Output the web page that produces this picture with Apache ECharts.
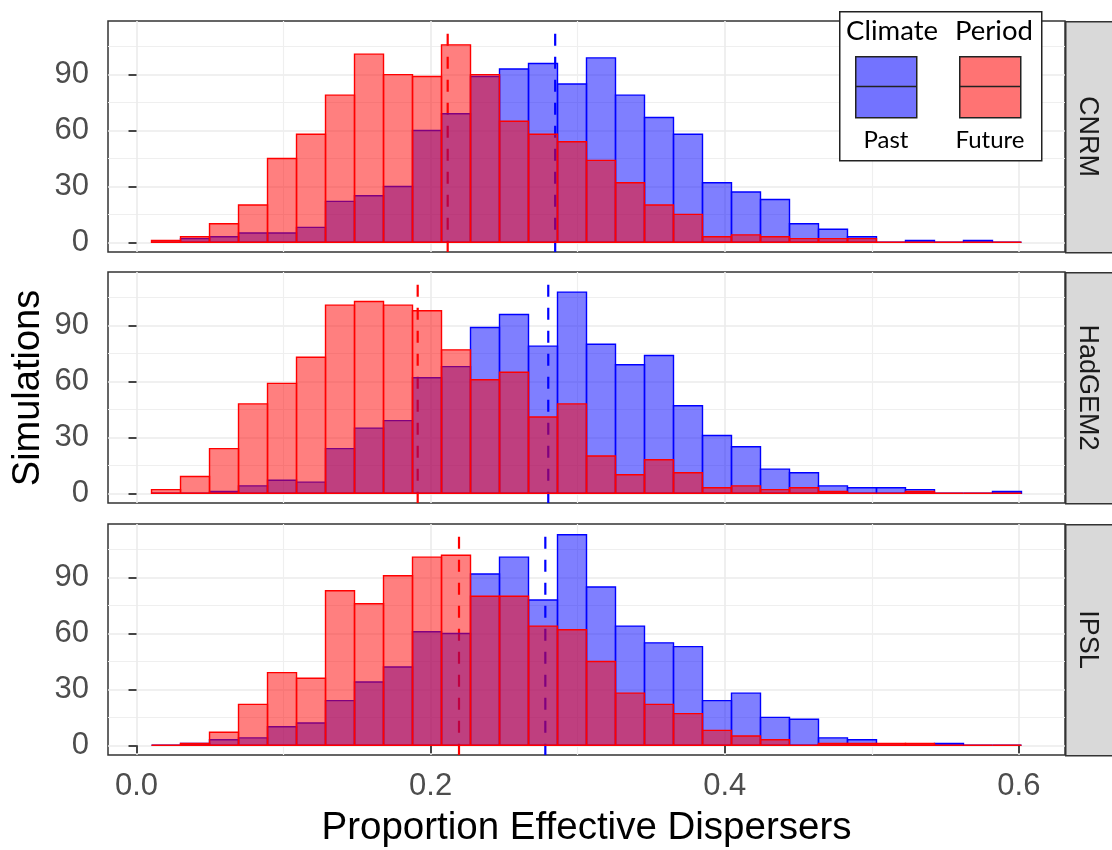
<!DOCTYPE html>
<html>
<head>
<meta charset="utf-8">
<script src="https://cdn.jsdelivr.net/npm/echarts@6/dist/echarts.min.js"></script>
<style>html,body{margin:0;padding:0;background:#fff}#c{width:1112px;height:850px}</style>
</head>
<body>
<div id="c"></div>
<script>
// ---- data ----
const panels = ['CNRM', 'HadGEM2', 'IPSL'];
const binStart = 0.0102;
const binWidth = 0.01972;
const cnrmPast    = [0,2,3,5,5,8,22,25,30,60,69,89,93,96,85,99,79,67,58,32,27,23,10,7,3,0,1,0,1,0];
const cnrmFuture  = [1,3,10,20,45,58,79,101,90,89,106,90,65,58,54,44,32,20,15,3,4,3,2,2,2,0,0,0,0,0];
const hadPast     = [0,0,1,4,7,6,24,35,39,62,68,89,96,79,108,80,69,74,47,31,25,13,11,4,3,3,2,0,0,1];
const hadFuture   = [2,9,24,48,59,73,101,103,101,98,77,61,65,41,48,20,10,18,11,3,4,2,3,1,0,0,1,0,0,0];
const ipslPast    = [0,1,3,4,10,12,24,34,42,61,60,92,101,78,113,85,64,55,53,24,28,15,14,4,3,0,0,1,0,0];
const ipslFuture  = [0,1,7,22,39,36,83,76,91,101,102,80,80,64,62,45,28,22,17,8,5,3,0,1,1,1,1,0,0,0];
const meanPast    = [0.2847, 0.2800, 0.2780];
const meanFuture  = [0.2116, 0.1912, 0.2193];
const meanLineTop = 112;
const yTicks = [0, 30, 60, 90];
const yMinor = [15, 45, 75, 105];
const xTicks = [0, 0.2, 0.4, 0.6];
const xMinor = [0.1, 0.3, 0.5];
const legendLabels = ['Past', 'Future'];
const legendTitle = ['Climate', 'Period'];

const pastData = [cnrmPast, hadPast, ipslPast];
const futureData = [cnrmFuture, hadFuture, ipslFuture];

// ---- layout ----
const panelLeft = 108, panelWidth = 957, panelH = 231;
const panelTops = [21, 272, 524];
const xMin = -0.0194, xMax = 0.6314, yMin = -5.2, yMax = 118.8;
const BLUE = '#0000FF', RED = '#FF0000';
const tickFont = 'Liberation Sans, Arial, sans-serif';

const chart = echarts.init(document.getElementById('c'), null, {renderer: 'canvas'});

const grids = [], xAxes = [], yAxes = [], series = [], graphics = [];

function histRender(stroke, fill) {
  return function (params, api) {
    const x0 = api.value(0), x1 = api.value(1), c = api.value(2);
    const p0 = api.coord([x0, c]);
    const p1 = api.coord([x1, 0]);
    return {
      type: 'rect',
      shape: {x: p0[0], y: p0[1], width: p1[0] - p0[0], height: p1[1] - p0[1]},
      style: {fill: fill, stroke: stroke, lineWidth: 1.4}
    };
  };
}
function vlineRender(color) {
  return function (params, api) {
    const p = api.coord([api.value(0), api.value(1)]);
    const yb = params.coordSys.y + params.coordSys.height;
    return {
      type: 'line',
      shape: {x1: p[0], y1: p[1], x2: p[0], y2: yb},
      style: {stroke: color, lineWidth: 2.2, lineDash: [12, 11]}
    };
  };
}
function toBins(arr) {
  return arr.map((v, i) => [binStart + i * binWidth, binStart + (i + 1) * binWidth, v]);
}

panels.forEach((name, k) => {
  const isBottom = k === panels.length - 1;
  grids.push({left: panelLeft, top: panelTops[k], width: panelWidth, height: panelH,
    show: true, borderColor: '#333333', borderWidth: 1.5, backgroundColor: '#fff', containLabel: false});
  // major x axis
  xAxes.push({type: 'value', gridIndex: k, min: xMin, max: xMax,
    axisLine: {show: false},
    axisTick: {show: isBottom, customValues: xTicks, length: 8, lineStyle: {color: '#333', width: 1.8}},
    axisLabel: {show: isBottom, customValues: xTicks, fontSize: 31, color: '#4D4D4D', margin: 16,
      fontFamily: tickFont, formatter: v => v.toFixed(1)},
    splitLine: {show: true, lineStyle: {color: '#EBEBEB', width: 1.6}}
  });
  // minor x axis
  xAxes.push({type: 'value', gridIndex: k, min: xMin, max: xMax, position: 'top',
    axisLine: {show: false},
    axisTick: {show: false, customValues: xMinor},
    axisLabel: {show: false, customValues: xMinor},
    splitLine: {show: true, lineStyle: {color: '#EFEFEF', width: 1.2}}
  });
  yAxes.push({type: 'value', gridIndex: k, min: yMin, max: yMax,
    axisLine: {show: false},
    axisTick: {show: true, customValues: yTicks, length: 8, lineStyle: {color: '#333', width: 1.8}},
    axisLabel: {show: true, customValues: yTicks, fontSize: 31, color: '#4D4D4D', margin: 19, fontFamily: tickFont},
    splitLine: {show: true, lineStyle: {color: '#EBEBEB', width: 1.6}}
  });
  yAxes.push({type: 'value', gridIndex: k, min: yMin, max: yMax, position: 'right',
    axisLine: {show: false},
    axisTick: {show: false, customValues: yMinor},
    axisLabel: {show: false, customValues: yMinor},
    splitLine: {show: true, lineStyle: {color: '#EFEFEF', width: 1.2}}
  });
  const xi = 2 * k, yi = 2 * k;
  series.push({type: 'custom', name: 'Future mean', xAxisIndex: xi, yAxisIndex: yi, z: 1, clip: true,
    renderItem: vlineRender(RED), data: [[meanFuture[k], meanLineTop]], silent: true});
  series.push({type: 'custom', name: 'Past mean', xAxisIndex: xi, yAxisIndex: yi, z: 1, clip: true,
    renderItem: vlineRender(BLUE), data: [[meanPast[k], meanLineTop]], silent: true});
  series.push({type: 'custom', name: 'Past', xAxisIndex: xi, yAxisIndex: yi, z: 2, clip: true,
    encode: {x: [0, 1], y: 2},
    renderItem: histRender(BLUE, 'rgba(0,0,255,0.5)'), data: toBins(pastData[k]), silent: true});
  series.push({type: 'custom', name: 'Future', xAxisIndex: xi, yAxisIndex: yi, z: 3, clip: true,
    encode: {x: [0, 1], y: 2},
    renderItem: histRender(RED, 'rgba(255,0,0,0.5)'), data: toBins(futureData[k]), silent: true});

  // facet strip
  graphics.push({type: 'rect', left: panelLeft + panelWidth, top: panelTops[k], z: 10,
    shape: {width: 60, height: panelH},
    style: {fill: '#D9D9D9', stroke: '#333333', lineWidth: 1.5}});
  graphics.push({type: 'text', x: panelLeft + panelWidth + 22, y: panelTops[k] + panelH / 2, rotation: -Math.PI / 2, z: 11,
    style: {text: name, fontSize: 27, fontFamily: tickFont, fill: '#1A1A1A', align: 'center', verticalAlign: 'middle'}});
});

// axis titles
graphics.push({type: 'text', x: panelLeft + panelWidth / 2, y: 828, z: 11,
  style: {text: 'Proportion Effective Dispersers', fontSize: 38.5, fontFamily: tickFont, fill: '#000',
    align: 'center', verticalAlign: 'middle'}});
graphics.push({type: 'text', x: 29, y: (panelTops[0] + panelTops[2] + panelH) / 2, rotation: Math.PI / 2, z: 11,
  style: {text: 'Simulations', fontSize: 38, fontFamily: tickFont, fill: '#000',
    align: 'center', verticalAlign: 'middle'}});

// legend
const legFont = 'Lato, Open Sans, sans-serif';
graphics.push({type: 'rect', left: 839, top: 11, z: 20, shape: {width: 202, height: 149},
  style: {fill: '#fff', stroke: '#222', lineWidth: 1.5}});
const keyX = [855, 959], keyFill = ['rgba(0,0,255,0.55)', 'rgba(255,0,0,0.55)'];
keyX.forEach((kx, j) => {
  graphics.push({type: 'rect', left: kx, top: 56, z: 21, shape: {width: 61, height: 61},
    style: {fill: keyFill[j], stroke: '#222', lineWidth: 1.5}});
  graphics.push({type: 'line', z: 22, shape: {x1: kx, y1: 86.5, x2: kx + 61, y2: 86.5},
    style: {stroke: '#222', lineWidth: 1.5}});
  graphics.push({type: 'text', x: kx + 31, y: 140, z: 22,
    style: {text: legendLabels[j], fontSize: 24, fontFamily: legFont, fill: '#000', align: 'center', verticalAlign: 'middle'}});
});
graphics.push({type: 'text', x: 892, y: 31, z: 22,
  style: {text: legendTitle[0], fontSize: 27.5, fontFamily: legFont, fill: '#000', align: 'center', verticalAlign: 'middle'}});
graphics.push({type: 'text', x: 994, y: 31, z: 22,
  style: {text: legendTitle[1], fontSize: 27.5, fontFamily: legFont, fill: '#000', align: 'center', verticalAlign: 'middle'}});

chart.setOption({
  animation: false,
  backgroundColor: '#fff',
  grid: grids,
  xAxis: xAxes,
  yAxis: yAxes,
  series: series,
  graphic: graphics
});
</script>
</body>
</html>
